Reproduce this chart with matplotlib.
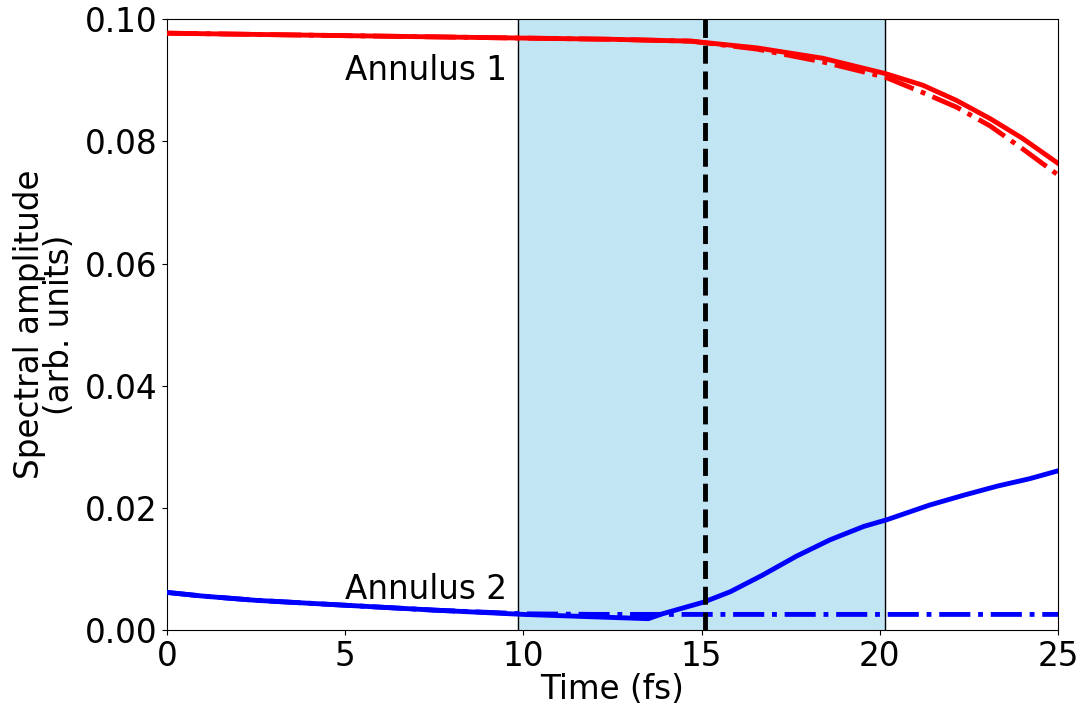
import matplotlib
matplotlib.use('Agg')
import matplotlib.pyplot as plt
import numpy as np

## Donnees (amplitude spectrale en fonction du temps)

t_red = [0, 2.5, 5, 7.5, 10, 12.5, 14.7, 16.55, 18.4, 20.15, 21.2, 22.15, 23.1, 24.0, 25]
red_full = [0.0977, 0.0975, 0.0973, 0.0971, 0.0969, 0.0967, 0.0964, 0.0953, 0.0936, 0.0911, 0.0892, 0.0867, 0.0837, 0.0805, 0.0764]
red_ref = [0.0977, 0.0975, 0.0973, 0.0971, 0.0969, 0.0967, 0.0964, 0.0951, 0.0930, 0.0905, 0.0880, 0.0856, 0.0825, 0.0788, 0.0745]

t_blue = [0, 1, 2.5, 5, 7.5, 10, 12, 13.0, 13.5, 13.9, 15.05, 15.8, 16.7, 17.65, 18.6, 19.55, 20.2, 21.4, 22.35, 23.3, 24.2, 25]
blue_full = [0.0062, 0.0056, 0.0049, 0.0041, 0.0033, 0.0026, 0.0022, 0.0020, 0.0019, 0.0027, 0.0046, 0.0063, 0.0090, 0.0121, 0.0148, 0.0170, 0.0181, 0.0205, 0.0221, 0.0236, 0.0248, 0.0261]
blue_ref = [0.0062, 0.0056, 0.0049, 0.0041, 0.0033, 0.0027, 0.0026, 0.0026, 0.0026, 0.0026, 0.0026, 0.0026, 0.0026, 0.0026, 0.0026, 0.0026, 0.0026, 0.0026, 0.0026, 0.0026, 0.0026, 0.0026]

window = [9.85, 20.15]   # fenetre temporelle
t_mark = 15.1            # instant repere

## Figure

plt.rcParams['font.size'] = 23.5
fig = plt.figure(figsize=(10.88, 7.09), dpi=100)
ax = fig.add_axes([0.1535, 0.111, 0.819, 0.862])

ax.axvspan(window[0], window[1], color='#c2e5f4', zorder=0)
for x in window:
    ax.axvline(x, color='black', lw=1, zorder=1)

ax.plot(t_red, red_full, color='red', lw=3.5, zorder=3)
ax.plot(t_red, red_ref, color='red', lw=3.5, ls='-.', zorder=3)
ax.plot(t_blue, blue_full, color='blue', lw=3.5, zorder=3)
ax.plot(t_blue, blue_ref, color='blue', lw=3.5, ls='-.', zorder=3)

ax.axvline(t_mark, color='black', lw=3.5, ls='--', zorder=4)

ax.text(9.55, 0.0889, 'Annulus 1', ha='right', va='bottom', fontsize=23.5)
ax.text(9.55, 0.0040, 'Annulus 2', ha='right', va='bottom', fontsize=23.5)

ax.set_xlim(0, 25)
ax.set_ylim(0, 0.1)
ax.set_xticks([0, 5, 10, 15, 20, 25])
ax.set_yticks([0, 0.02, 0.04, 0.06, 0.08, 0.10])
ax.set_yticklabels(['0.00', '0.02', '0.04', '0.06', '0.08', '0.10'])
ax.set_xlabel('Time (fs)', labelpad=0)
ax.set_ylabel('Spectral amplitude\n(arb. units)', linespacing=0.9, labelpad=6)

fig.savefig('out.png', dpi=100)
